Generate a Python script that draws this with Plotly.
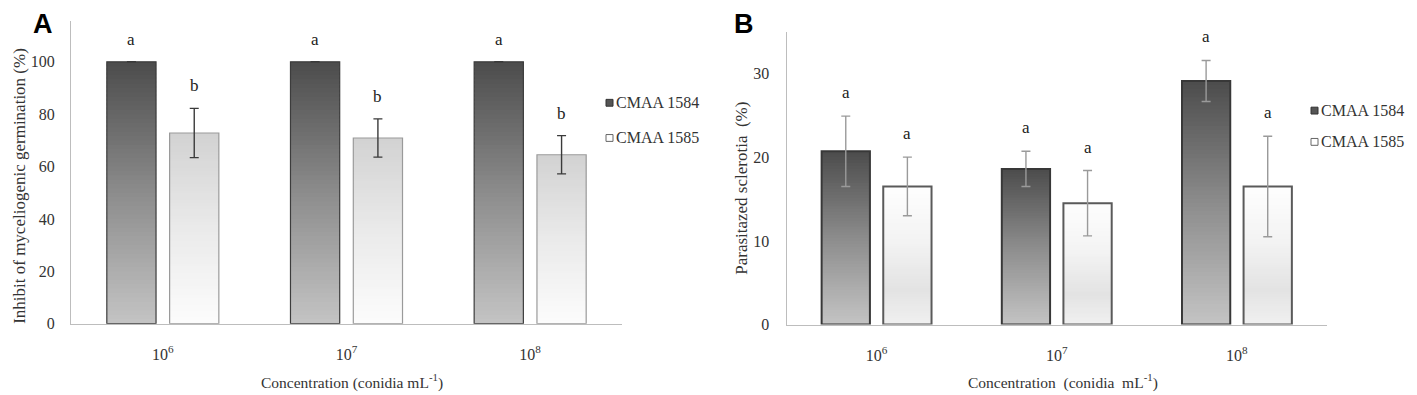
import plotly.graph_objects as go

# ---------------- data ----------------
categories = ["10<sup>6</sup>", "10<sup>7</sup>", "10<sup>8</sup>"]
series_names = ["CMAA 1584", "CMAA 1585"]

# Panel A: Inhibit of myceliogenic germination (%)
a_1584 = [100.0, 100.0, 100.0]
a_1584_err = [0.0, 0.0, 0.0]
a_1585 = [72.8, 70.9, 64.5]
a_1585_err = [9.4, 7.3, 7.3]
a_letters_1584 = ["a", "a", "a"]
a_letters_1585 = ["b", "b", "b"]

# Panel B: Parasitazed sclerotia (%)
b_1584 = [20.7, 18.6, 29.1]
b_1584_err = [4.2, 2.1, 2.45]
b_1585 = [16.5, 14.5, 16.5]
b_1585_err = [3.5, 3.9, 6.0]
b_letters_1584 = ["a", "a", "a"]
b_letters_1585 = ["a", "a", "a"]

a_yticks = [0, 20, 40, 60, 80, 100]
b_yticks = [0, 10, 20, 30]

# ---------------- style ----------------
W, H = 1417, 395
SERIF = "Liberation Serif"
N_SLICES = 60
BAR_W = 0.268
OFFS = [-0.305, 0.037]


def hex2rgb(h):
    h = h.lstrip("#")
    return tuple(int(h[i:i + 2], 16) for i in (0, 2, 4))


def grad(stops, f):
    for (f0, c0), (f1, c1) in zip(stops[:-1], stops[1:]):
        if f0 <= f <= f1:
            t = (f - f0) / (f1 - f0) if f1 > f0 else 0
            a, b = hex2rgb(c0), hex2rgb(c1)
            r = [round(a[i] + (b[i] - a[i]) * t) for i in range(3)]
            return "rgb(%d,%d,%d)" % tuple(r)
    return stops[-1][1]


dark_stops = [(0.0, "#c4c4c4"), (0.5, "#8c8c8c"), (1.0, "#4c4c4c")]
lightA_stops = [(0.0, "#fcfcfc"), (0.5, "#eaeaea"), (1.0, "#d2d2d2")]
lightB_stops = [(0.0, "#f0f0f0"), (0.25, "#e3e3e3"), (0.6, "#f3f3f3"), (1.0, "#fefefe")]

fig = go.Figure()


def add_panel(xa, ya, vals_list, errs_list, stops_list, line_cols, line_ws, err_col):
    for s, (vals, errs, stops, lc, lw, off) in enumerate(
            zip(vals_list, errs_list, stops_list, line_cols, line_ws, OFFS)):
        for k in range(N_SLICES):
            f = (k + 0.5) / N_SLICES
            col = grad(stops, f)
            # slight overlap between slices avoids seams
            ext = 1.0 if k == N_SLICES - 1 else 1.6
            fig.add_trace(go.Bar(
                x=categories, y=[v / N_SLICES * ext for v in vals],
                base=[v * k / N_SLICES for v in vals],
                offset=off, width=BAR_W,
                marker=dict(color=col, line=dict(width=0)),
                xaxis=xa, yaxis=ya, showlegend=False, hoverinfo="skip"))
        fig.add_trace(go.Bar(
            x=categories, y=vals, base=[0] * len(vals),
            offset=off, width=BAR_W, name=series_names[s],
            marker=dict(color="rgba(0,0,0,0)", line=dict(color=lc, width=lw)),
            error_y=dict(type="data", array=errs, visible=True,
                         color=err_col, thickness=1.4, width=4.5),
            xaxis=xa, yaxis=ya, showlegend=False))


add_panel("x", "y", [a_1584, a_1585], [a_1584_err, a_1585_err],
          [dark_stops, lightA_stops], ["#3c3c3c", "#9a9a9a"], [1.2, 1.2], "#3a3a3a")
add_panel("x2", "y2", [b_1584, b_1585], [b_1584_err, b_1585_err],
          [dark_stops, lightB_stops], ["#383838", "#5a5a5a"], [2.0, 2.0], "#9a9a9a")

annotations = []


def letters(xref, yref, vals_list, errs_list, lets_list, shift):
    for vals, errs, lets, off in zip(vals_list, errs_list, lets_list, OFFS):
        for i, (v, e, t) in enumerate(zip(vals, errs, lets)):
            annotations.append(dict(
                x=i + off + BAR_W / 2, y=v + e, xref=xref, yref=yref,
                text=t, showarrow=False, xanchor="center", yanchor="bottom",
                yshift=shift,
                font=dict(family=SERIF, size=17, color="#222222")))


letters("x", "y", [a_1584, a_1585], [a_1584_err, a_1585_err],
        [a_letters_1584, a_letters_1585], 11)
letters("x2", "y2", [b_1584, b_1585], [b_1584_err, b_1585_err],
        [b_letters_1584, b_letters_1585], 12)


def px(x):
    return x / W


def py(y):
    return 1 - y / H


def note(x, y, text, size, family=SERIF, color="#333333", angle=0, xanchor="center"):
    annotations.append(dict(x=px(x), y=py(y), xref="paper", yref="paper",
                            showarrow=False, text=text, textangle=angle,
                            xanchor=xanchor, yanchor="middle",
                            font=dict(family=family, size=size, color=color)))


# axis titles, panel letters
note(12, 182, "Inhibit of myceliogenic germination (%)", 17, angle=-90)
note(344, 382, "Concentration (conidia mL<sup>-1</sup>)", 15.5)
note(734, 185, "Parasitazed sclerotia  (%)", 17, angle=-90)
note(1055, 382, "Concentration  (conidia  mL<sup>-1</sup>)", 15.5)
note(35, 16, "<b>A</b>", 27, family="Liberation Sans", color="#000000")
note(736, 16, "<b>B</b>", 27, family="Liberation Sans", color="#000000")

shapes = []


def legend(x0, ys):
    cols = [("#555555", "#333333"), ("#ffffff", "#666666")]
    for name, yc, (fc, lc) in zip(series_names, ys, cols):
        shapes.append(dict(type="rect", xref="paper", yref="paper",
                           x0=px(x0), x1=px(x0 + 7), y0=py(yc + 3.5), y1=py(yc - 3.5),
                           fillcolor=fc, line=dict(color=lc, width=1)))
        note(x0 + 8, yc, name, 16, xanchor="left")


legend(598, [97, 133])
legend(1303, [105, 137])

axis_common = dict(showgrid=False, zeroline=False, showline=True,
                   linecolor="#bdbdbd", linewidth=1.3, ticks="",
                   tickfont=dict(family=SERIF, size=16, color="#333333"))

fig.update_layout(
    width=W, height=H, margin=dict(l=0, r=0, t=0, b=0),
    paper_bgcolor="white", plot_bgcolor="white",
    barmode="overlay", showlegend=False,
    xaxis=dict(domain=[px(63), px(614)], range=[-0.5, 2.5], anchor="y",
               ticklabelstandoff=16, **axis_common),
    yaxis=dict(domain=[py(323), py(13)], range=[0, 115.7], anchor="x",
               tickvals=a_yticks, ticklabelstandoff=12, **axis_common),
    xaxis2=dict(domain=[px(778.5), px(1319)], range=[-0.5, 2.5], anchor="y2",
                ticklabelstandoff=16, **axis_common),
    yaxis2=dict(domain=[py(324), py(25)], range=[0, 34.9], anchor="x2",
                tickvals=b_yticks, ticklabelstandoff=13, **axis_common),
    annotations=annotations, shapes=shapes,
)

fig.write_html("out.html")
